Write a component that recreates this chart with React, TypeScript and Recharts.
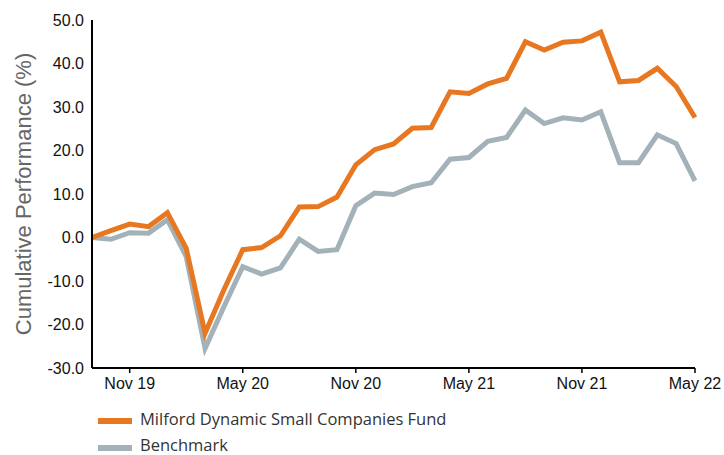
import { LineChart, Line, XAxis, YAxis } from 'recharts';

// monthly, Sep 2019 .. May 2022
const months = [
  'Sep 19', 'Oct 19', 'Nov 19', 'Dec 19', 'Jan 20', 'Feb 20', 'Mar 20', 'Apr 20', 'May 20',
  'Jun 20', 'Jul 20', 'Aug 20', 'Sep 20', 'Oct 20', 'Nov 20', 'Dec 20', 'Jan 21', 'Feb 21',
  'Mar 21', 'Apr 21', 'May 21', 'Jun 21', 'Jul 21', 'Aug 21', 'Sep 21', 'Oct 21', 'Nov 21',
  'Dec 21', 'Jan 22', 'Feb 22', 'Mar 22', 'Apr 22', 'May 22',
];

const fund = [
  0.0, 1.6, 3.1, 2.5, 5.7, -2.5, -22.0, -12.0, -2.8, -2.3, 0.4, 7.0, 7.1, 9.3, 16.7, 20.2,
  21.5, 25.1, 25.3, 33.5, 33.1, 35.3, 36.6, 45.0, 43.1, 44.9, 45.2, 47.2, 35.8, 36.1, 38.9,
  34.7, 27.6,
];

const benchmark = [
  0.0, -0.4, 1.1, 1.0, 4.1, -4.4, -25.5, -15.9, -6.7, -8.4, -7.0, -0.4, -3.2, -2.8, 7.3, 10.2,
  9.9, 11.7, 12.6, 18.0, 18.4, 22.1, 23.0, 29.3, 26.2, 27.5, 27.0, 28.9, 17.2, 17.2, 23.6,
  21.6, 13.0,
];

const xTicks = ['Nov 19', 'May 20', 'Nov 20', 'May 21', 'Nov 21', 'May 22'];
const yTicks = [-30, -20, -10, 0, 10, 20, 30, 40, 50];

const seriesNames = ['Milford Dynamic Small Companies Fund', 'Benchmark'];
const colors = ['#E87722', '#A3B1B8'];

const data = months.map((m, i) => ({ idx: i, month: m, fund: fund[i], benchmark: benchmark[i] }));
const tickIdx = xTicks.map((t) => months.indexOf(t));

const axisFont = '"Liberation Sans", Arial, sans-serif';
const legendFont = '"Open Sans", sans-serif';

function LegendBox() {
  return (
    <div style={{ position: 'absolute', left: 98, top: 406, fontFamily: legendFont, fontSize: 16.5, color: '#333' }}>
      {seriesNames.map((name, i) => (
        <div key={name} style={{ display: 'flex', alignItems: 'center', height: 26, lineHeight: '14px' }}>
          <span style={{ display: 'inline-block', width: 34, height: 6, background: colors[i], marginRight: 8, marginTop: i ? 6 : 3 }} />
          <span>{name}</span>
        </div>
      ))}
    </div>
  );
}

export default function App() {
  return (
    <div style={{ position: 'absolute', left: 0, top: 0, width: 724, height: 455, background: '#fff', overflow: 'hidden' }}>
      <LineChart width={724} height={400} data={data} margin={{ top: 20, right: 29, left: 0, bottom: 0 }}>
        <XAxis
          dataKey="idx"
          type="number"
          domain={[0, months.length - 1]}
          ticks={tickIdx}
          tickFormatter={(v) => months[v]}
          axisLine={{ stroke: '#000', strokeWidth: 2 }}
          tickLine={{ stroke: '#000', strokeWidth: 1.5 }}
          tick={{ fill: '#111', fontSize: 16, fontFamily: axisFont }}
          tickSize={5}
          tickMargin={5}
          height={32}
        />
        <YAxis
          domain={[-30, 50]}
          ticks={yTicks}
          width={92}
          tickFormatter={(v) => v.toFixed(1)}
          axisLine={{ stroke: '#000', strokeWidth: 2 }}
          tickLine={false}
          tick={{ fill: '#111', fontSize: 16, fontFamily: axisFont }}
          label={{
            value: 'Cumulative Performance (%)',
            angle: -90,
            position: 'insideLeft',
            offset: 23,
            style: { textAnchor: 'middle', fill: '#666', fontSize: 22, fontFamily: axisFont },
          }}
        />
        <Line
          dataKey="benchmark"
          name={seriesNames[1]}
          stroke={colors[1]}
          strokeWidth={5}
          dot={false}
          type="linear"
          isAnimationActive={false}
        />
        <Line
          dataKey="fund"
          name={seriesNames[0]}
          stroke={colors[0]}
          strokeWidth={5}
          dot={false}
          type="linear"
          isAnimationActive={false}
        />
      </LineChart>
      <LegendBox />
    </div>
  );
}
